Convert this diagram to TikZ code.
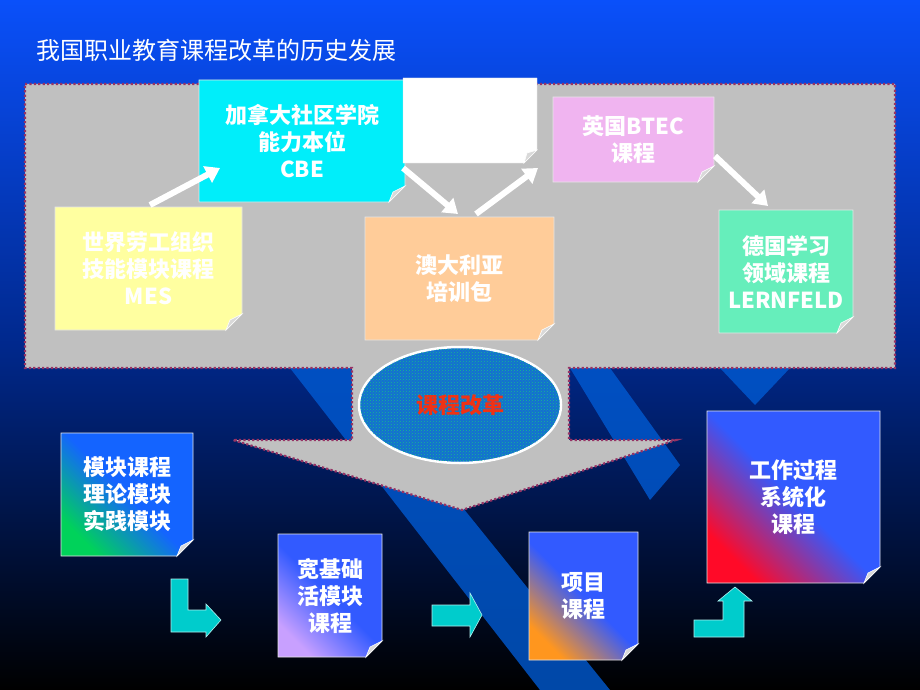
\documentclass[tikz,border=0pt]{standalone}
\usepackage{fontspec}
\setmainfont{Noto Sans CJK SC}
\usetikzlibrary{patterns,arrows.meta}
\definecolor{mar}{RGB}{150,50,100}
\definecolor{cy}{RGB}{0,204,204}
\definecolor{bgtop}{RGB}{10,80,250}
\definecolor{bgmid}{RGB}{0,40,140}
\definecolor{stripe}{RGB}{0,90,210}
\definecolor{panel}{RGB}{192,192,192}
\definecolor{cbec}{RGB}{0,238,250}
\definecolor{btecc}{RGB}{240,180,240}
\definecolor{mesc}{RGB}{255,255,160}
\definecolor{ausc}{RGB}{255,204,153}
\definecolor{gerc}{RGB}{102,238,187}
\definecolor{ellc}{RGB}{20,110,210}
\definecolor{ellp}{RGB}{20,190,140}
\definecolor{redt}{RGB}{240,50,20}
\definecolor{b1}{RGB}{20,100,255}
\definecolor{b2}{RGB}{50,90,255}
\definecolor{g1}{RGB}{0,210,90}
\definecolor{lav}{RGB}{200,160,255}
\definecolor{org}{RGB}{255,150,30}
\definecolor{rd}{RGB}{255,10,40}
\tikzset{
  lbl/.style={font=\bfseries\fontsize{22}{27}\selectfont, text=white, align=center},
  warr/.style={white, line width=6pt, -{Triangle[length=14pt,width=18pt]}},
  carr/.style={fill=cy, draw=white!70!cy, line width=0.6pt},
  fold/.style={fill=white!85!black, draw=white, line width=0.6pt},
  dshade/.style 2 args={top color=#1, bottom color=#2, middle color=#1, shading angle=-45}
}
\newcommand\nbox[7]{%
  \path[#6,draw=white!80!gray,line width=0.8pt] (#2,#3)--(#4,#3)--(#4,#5-16)--(#4-16,#5)--(#2,#5)--cycle;
  \path[fold] (#4,#5-16)--(#4-16,#5)--(#4-12,#5-10)--cycle;
  \node[lbl] (#1) at ({(#2+#4)/2},{(#3+#5)/2}) {#7};}
\begin{document}
\begin{tikzpicture}[x=1pt,y=-1pt]
\useasboundingbox (0,0) rectangle (920,690);
\shade[top color=bgtop, bottom color=black, middle color=bgmid] (0,0) rectangle (920,690);
\fill[stripe, opacity=0.8] (290,368)--(350,368)--(610,690)--(540,690)--cycle;
\fill[stripe, opacity=0.8] (570,368)--(610,368)--(680,465)--(650,500)--cycle;
\fill[stripe, opacity=0.8] (720,368)--(790,368)--(755,405)--cycle;
\node[font=\fontsize{24}{28}\selectfont, text=white, anchor=west] (title) at (33,50) {我国职业教育课程改革的历史发展};
\path[fill=panel, draw=mar, line width=2.2pt, dash pattern=on 2.2pt off 2.2pt]
 (25,84)--(895,84)--(895,368)--(569,368)--(569,440)--(676,440)--(462,510)--(233,440)--(352,440)--(352,368)--(25,368)--cycle;
\nbox{cbe}{199}{80}{405}{202}{fill=cbec}{加拿大社区学院\\能力本位\\CBE}
\path[fill=white, draw=white!80!gray] (403,78)--(537,78)--(537,150)--(524,163)--(403,163)--cycle;
\path[fold] (537,150)--(524,163)--(527,153)--cycle;
\nbox{btec}{553}{97}{714}{182}{fill=btecc}{英国BTEC\\课程}
\nbox{mes}{55}{207}{242}{330}{fill=mesc}{世界劳工组织\\技能模块课程\\MES}
\nbox{aus}{365}{217}{554}{340}{fill=ausc}{澳大利亚\\培训包}
\nbox{ger}{719}{210}{853}{333}{fill=gerc}{德国学习\\领域课程\\LERNFELD}
\coordinate (a1) at (150,205); \coordinate (a2) at (220,168);
\coordinate (a3) at (403,168); \coordinate (a4) at (458,214);
\coordinate (a5) at (476,214); \coordinate (a6) at (538,168);
\coordinate (a7) at (715,156); \coordinate (a8) at (768,206);
\draw[warr] (a1) -- (a2);
\draw[warr] (a3) -- (a4);
\draw[warr] (a5) -- (a6);
\draw[warr] (a7) -- (a8);
\path[fill=ellc, draw=white, line width=2.5pt] (460,405) ellipse [x radius=101, y radius=58];
\path[pattern=crosshatch dots, pattern color=ellp] (460,405) ellipse [x radius=100, y radius=57];
\node[font=\bfseries\fontsize{22}{26}\selectfont, text=redt] (reform) at (460,405) {课程改革};
\nbox{mod}{61}{433}{193}{556}{dshade={b1}{g1}}{模块课程\\理论模块\\实践模块}
\nbox{wide}{278}{534}{382}{657}{dshade={b2}{lav}}{宽基础\\活模块\\课程}
\nbox{proj}{529}{532}{638}{660}{dshade={b2}{org}}{项目\\课程}
\nbox{work}{707}{411}{880}{583}{dshade={b2}{rd}}{工作过程\\系统化\\课程}
\path[carr] (171,579)--(188,579)--(188,610)--(206,610)--(206,604)--(221,620)--(206,637)--(206,632)--(171,632)--cycle;
\path[carr] (432,605)--(470,605)--(470,593)--(482,615)--(470,637)--(470,626)--(432,626)--cycle;
\path[carr] (694,620)--(723,620)--(723,601)--(718,601)--(735,587)--(752,601)--(744,601)--(744,637)--(694,637)--cycle;
\end{tikzpicture}
\end{document}
